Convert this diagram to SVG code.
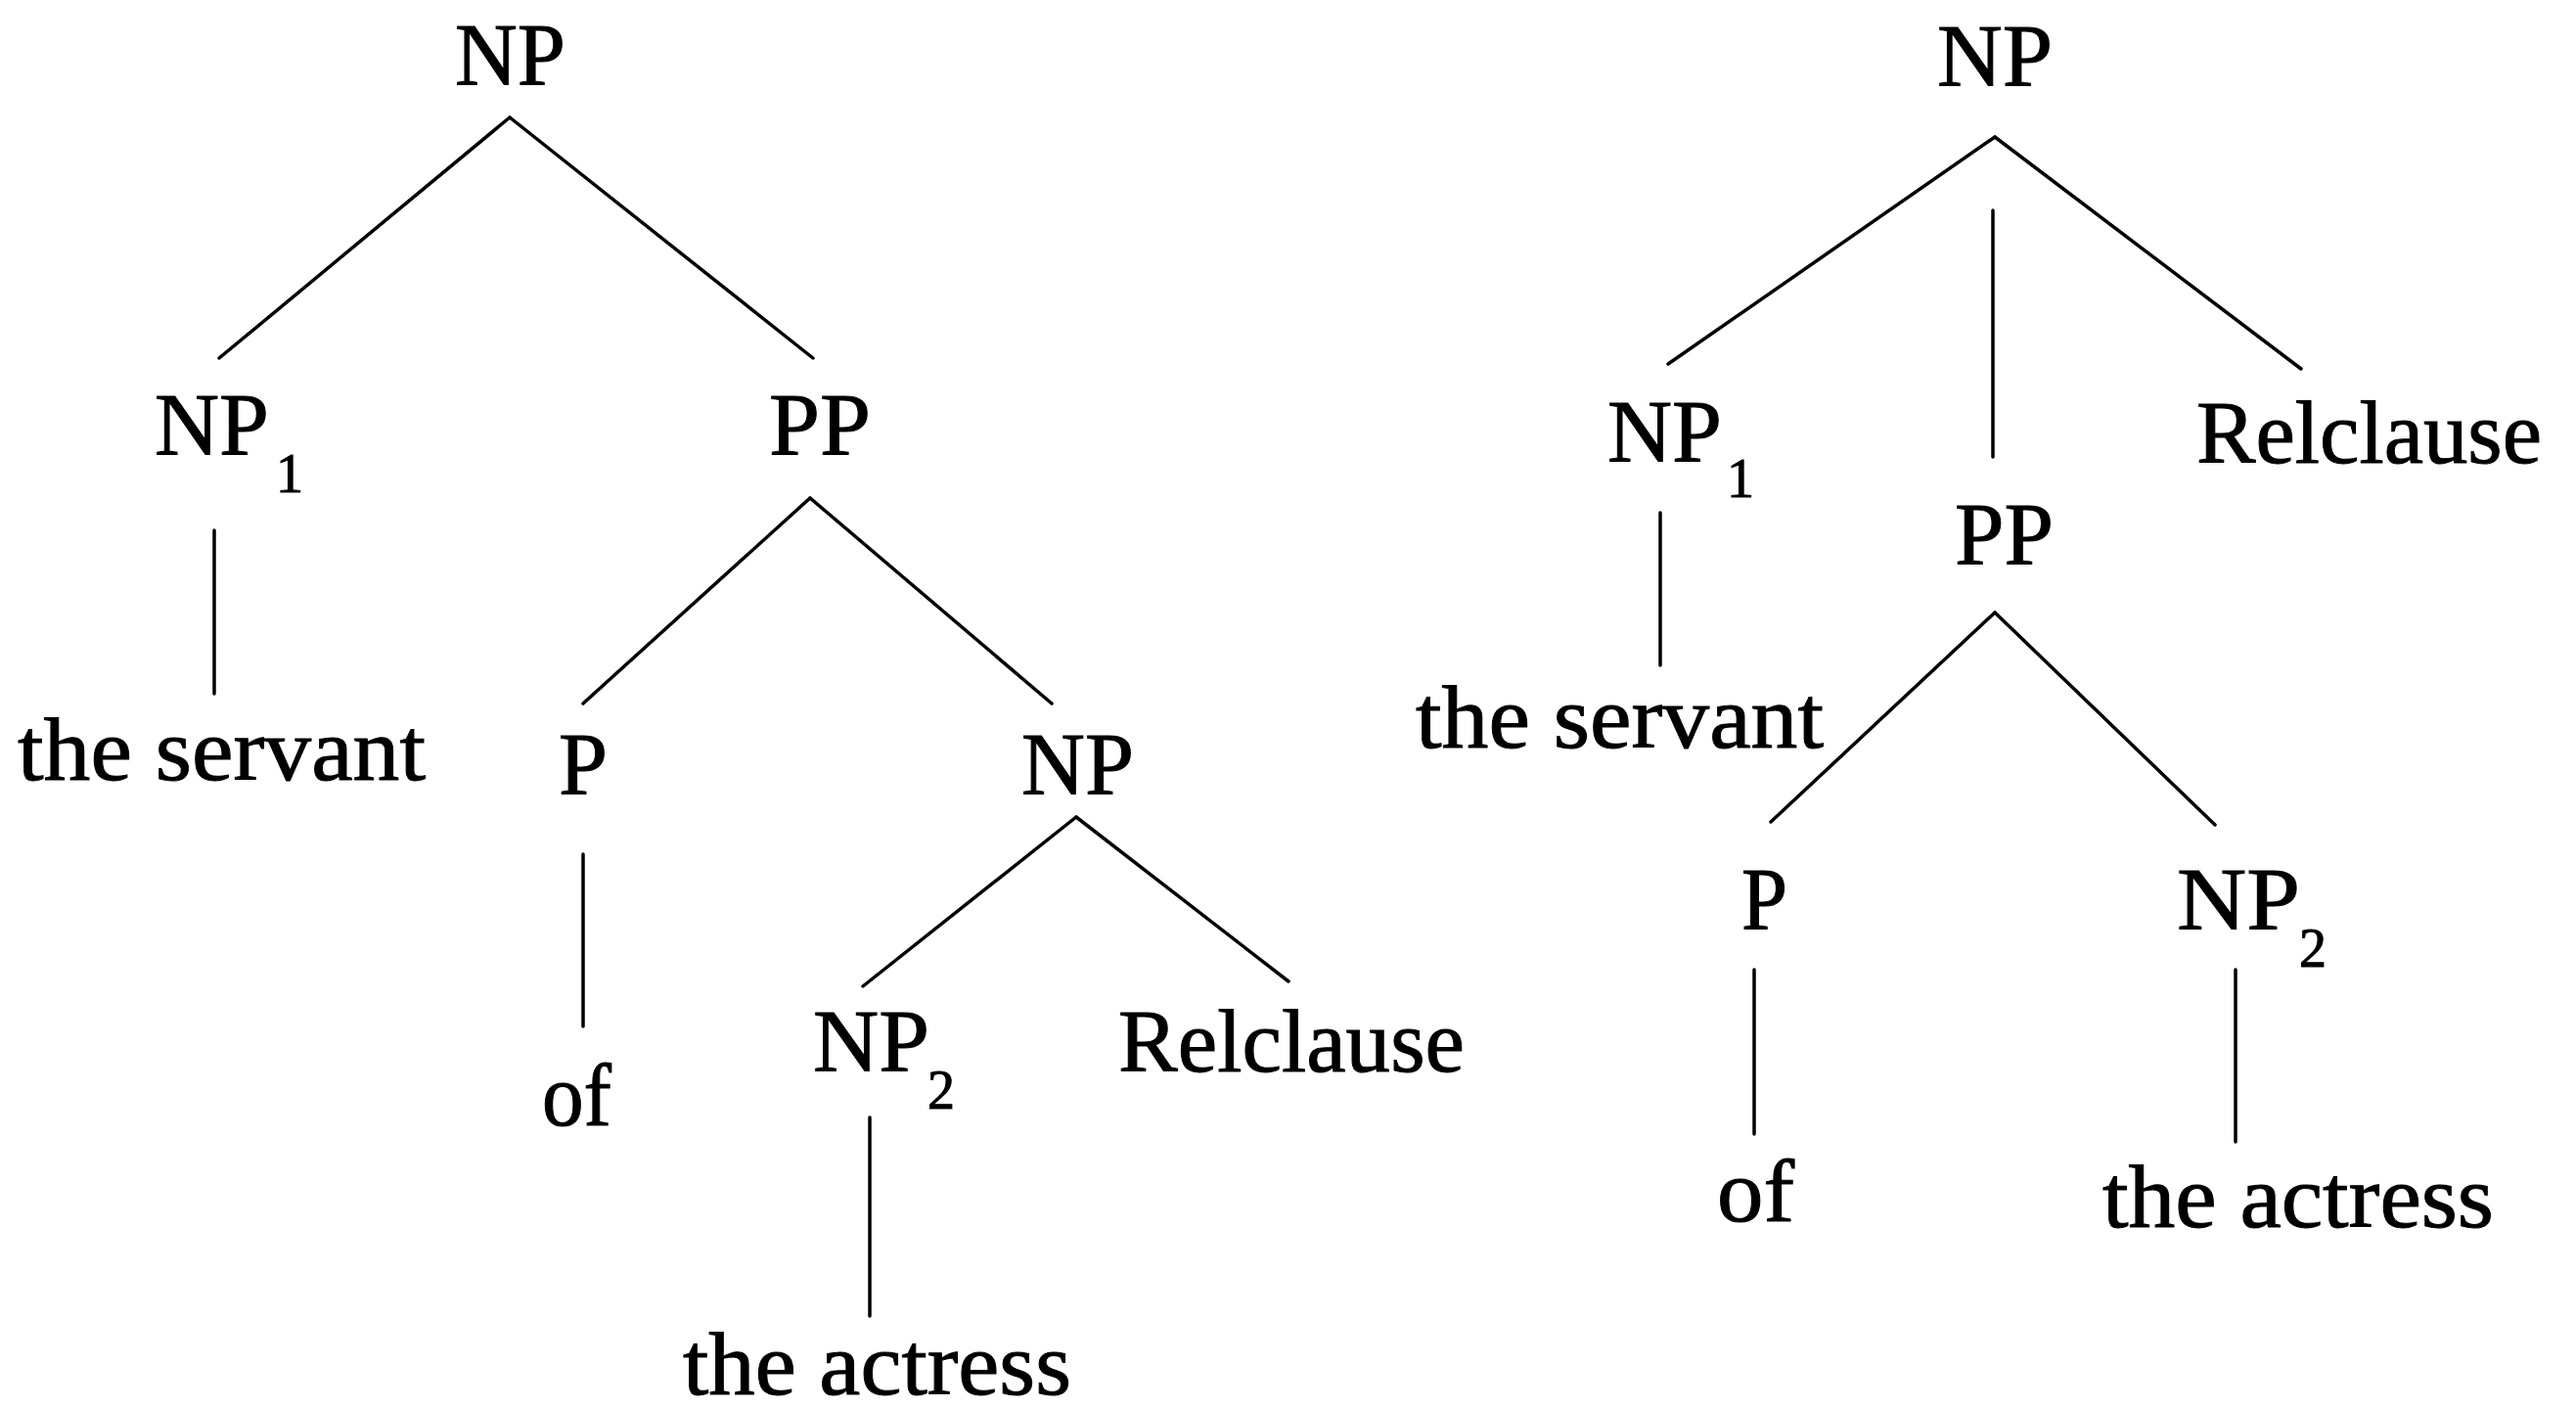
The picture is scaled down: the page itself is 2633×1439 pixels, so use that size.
<svg xmlns="http://www.w3.org/2000/svg" width="2633" height="1439" viewBox="0 0 2633 1439">
  <style>
    text { font-family: "Liberation Serif", "Times New Roman", serif; fill: #000; stroke: #000; stroke-width: 1; }
    .lbl { font-size: 90px; }
    .sub { font-size: 56px; }
    .edge { stroke: #000; stroke-width: 3.5; stroke-linecap: round; fill: none; }
  </style>
  <rect width="2633" height="1439" fill="#fff"/>

  <!-- Left tree: PP attaches inside, Relclause under the lower NP -->
  <g id="connectors-left">
    <line class="edge" x1="521" y1="120" x2="224" y2="366"/>
    <line class="edge" x1="521" y1="120" x2="831" y2="366"/>
    <line class="edge" x1="219" y1="542" x2="219" y2="709"/>
    <line class="edge" x1="828" y1="509" x2="596" y2="719"/>
    <line class="edge" x1="828" y1="509" x2="1075" y2="719"/>
    <line class="edge" x1="596" y1="873" x2="596" y2="1049"/>
    <line class="edge" x1="1100" y1="835" x2="882" y2="1008"/>
    <line class="edge" x1="1100" y1="835" x2="1317" y2="1003"/>
    <line class="edge" x1="889" y1="1142" x2="889" y2="1345"/>
  </g>

  <g id="L-np-root"><text class="lbl" x="465" y="87" textLength="113" lengthAdjust="spacingAndGlyphs">NP</text></g>
  <g id="L-np1"><text class="lbl" x="158" y="465" textLength="117" lengthAdjust="spacingAndGlyphs">NP</text><text class="sub" x="282" y="503">1</text></g>
  <g id="L-pp"><text class="lbl" x="786" y="465" textLength="104" lengthAdjust="spacingAndGlyphs">PP</text></g>
  <g id="L-servant"><text class="lbl" x="18" y="797" textLength="417" lengthAdjust="spacingAndGlyphs">the servant</text></g>
  <g id="L-p"><text class="lbl" x="571" y="812" textLength="50" lengthAdjust="spacingAndGlyphs">P</text></g>
  <g id="L-np"><text class="lbl" x="1044" y="812" textLength="115" lengthAdjust="spacingAndGlyphs">NP</text></g>
  <g id="L-of"><text class="lbl" x="554" y="1150" textLength="71" lengthAdjust="spacingAndGlyphs">of</text></g>
  <g id="L-np2"><text class="lbl" x="831" y="1095" textLength="119" lengthAdjust="spacingAndGlyphs">NP</text><text class="sub" x="948" y="1133">2</text></g>
  <g id="L-relclause"><text class="lbl" x="1143" y="1095" textLength="354" lengthAdjust="spacingAndGlyphs">Relclause</text></g>
  <g id="L-actress"><text class="lbl" x="698" y="1425" textLength="397" lengthAdjust="spacingAndGlyphs">the actress</text></g>

  <!-- Right tree: flat NP with three daughters -->
  <g id="connectors-right">
    <line class="edge" x1="2039" y1="140" x2="1705" y2="372"/>
    <line class="edge" x1="2039" y1="140" x2="2352" y2="377"/>
    <line class="edge" x1="2037" y1="215" x2="2037" y2="467"/>
    <line class="edge" x1="1697" y1="524" x2="1697" y2="680"/>
    <line class="edge" x1="2039" y1="626" x2="1810" y2="840"/>
    <line class="edge" x1="2039" y1="626" x2="2264" y2="843"/>
    <line class="edge" x1="1793" y1="991" x2="1793" y2="1159"/>
    <line class="edge" x1="2285" y1="991" x2="2285" y2="1167"/>
  </g>

  <g id="R-np-root"><text class="lbl" x="1980" y="88" textLength="118" lengthAdjust="spacingAndGlyphs">NP</text></g>
  <g id="R-np1"><text class="lbl" x="1643" y="472" textLength="117" lengthAdjust="spacingAndGlyphs">NP</text><text class="sub" x="1765" y="508">1</text></g>
  <g id="R-pp"><text class="lbl" x="1998" y="577" textLength="101" lengthAdjust="spacingAndGlyphs">PP</text></g>
  <g id="R-relclause"><text class="lbl" x="2245" y="473" textLength="353" lengthAdjust="spacingAndGlyphs">Relclause</text></g>
  <g id="R-servant"><text class="lbl" x="1447" y="764" textLength="417" lengthAdjust="spacingAndGlyphs">the servant</text></g>
  <g id="R-p"><text class="lbl" x="1780" y="950" textLength="47" lengthAdjust="spacingAndGlyphs">P</text></g>
  <g id="R-np2"><text class="lbl" x="2225" y="950" textLength="126" lengthAdjust="spacingAndGlyphs">NP</text><text class="sub" x="2350" y="988">2</text></g>
  <g id="R-of"><text class="lbl" x="1755" y="1248" textLength="79" lengthAdjust="spacingAndGlyphs">of</text></g>
  <g id="R-actress"><text class="lbl" x="2149" y="1254" textLength="400" lengthAdjust="spacingAndGlyphs">the actress</text></g>
</svg>
